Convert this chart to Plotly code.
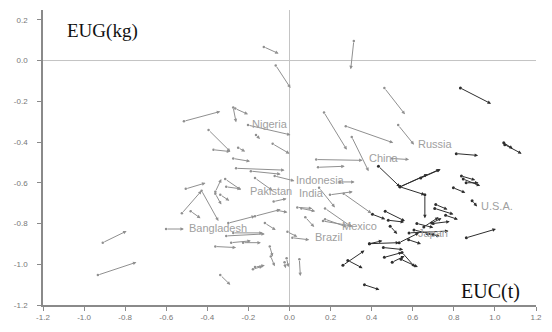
import plotly.graph_objects as go

# Light-grey vectors: (start x, start y) -> (end x, end y)
grey_x0 = [-0.125, -0.067, 0.313, 0.462, 0.168, 0.274, 0.529, 0.303, 0.130, 0.500, 0.139,
           -0.514, -0.274, -0.264, -0.202, -0.163, -0.394, -0.370, -0.250, -0.274, -0.260,
           -0.082, -0.168, -0.072, -0.188,
           -0.505, -0.524, -0.428, -0.481, -0.361, -0.361, -0.313, -0.308, -0.601, -0.298,
           -0.168, -0.308, -0.274, -0.361, -0.284, -0.226, -0.168, -0.337, -0.909, -0.933,
           -0.120, -0.058, -0.010, -0.096, -0.091, -0.178, -0.024, -0.337,
           0.144, 0.264, 0.173, 0.173, 0.077, 0.014, 0.048, -0.014, 0.038, -0.077, 0.058,
           0.245, 0.197, 0.163]
grey_y0 = [0.067, -0.024, 0.096, -0.135, -0.255, -0.322, -0.317, -0.375, -0.486, -0.481, -0.524,
           -0.298, -0.231, -0.236, -0.317, -0.365, -0.341, -0.438, -0.428, -0.481, -0.529,
           -0.409, -0.577, -0.567, -0.543,
           -0.630, -0.750, -0.639, -0.740, -0.644, -0.654, -0.582, -0.620, -0.827, -0.798,
           -0.764, -0.861, -0.846, -0.913, -0.894, -0.894, -1.014, -1.053, -0.894, -1.053,
           -0.798, -0.736, -0.841, -0.913, -0.962, -1.024, -0.990, -0.659,
           -0.625, -0.654, -0.726, -0.779, -0.769, -0.870, -0.976, -0.971, -0.721, -0.692, -0.726,
           -0.596, -0.659, -0.788]
grey_x1 = [-0.053, 0.005, 0.298, 0.562, 0.279, 0.505, 0.606, 0.385, 0.356, 0.582, 0.269,
           -0.337, -0.260, -0.202, 0.005, -0.144, -0.288, -0.288, -0.216, -0.192, -0.024,
           0.000, -0.082, 0.024, -0.043,
           -0.409, -0.428, -0.346, -0.433, -0.332, -0.332, -0.236, -0.236, -0.514, -0.168,
           -0.043, -0.120, -0.130, -0.260, -0.188, -0.139, -0.120, -0.288, -0.793, -0.745,
           -0.067, -0.010, 0.038, -0.082, -0.072, -0.130, -0.019, -0.293,
           0.221, 0.399, 0.303, 0.279, 0.120, 0.096, 0.053, -0.005, 0.111, -0.014, 0.125,
           0.317, 0.308, 0.308]
grey_y1 = [0.034, -0.135, -0.043, -0.264, -0.438, -0.404, -0.413, -0.543, -0.490, -0.486, -0.519,
           -0.250, -0.303, -0.264, -0.365, -0.385, -0.447, -0.447, -0.447, -0.495, -0.538,
           -0.457, -0.639, -0.591, -0.558,
           -0.601, -0.639, -0.788, -0.774, -0.582, -0.707, -0.635, -0.630, -0.827, -0.764,
           -0.731, -0.851, -0.846, -0.918, -0.885, -0.894, -1.005, -1.101, -0.837, -0.990,
           -0.832, -0.745, -0.865, -0.962, -1.010, -1.010, -1.019, -0.688,
           -0.721, -0.750, -0.817, -0.817, -0.817, -0.880, -1.058, -1.014, -0.726, -0.678, -0.740,
           -0.596, -0.644, -0.813]

# Dark vectors
dark_x0 = [0.832, 0.812, 1.048, 1.043, 0.639, 0.846, 0.837, 0.798, 0.433, 0.538, 0.538, 0.538,
           0.659, 0.889, 0.707, 0.712, 0.692, 0.466, 0.404, 0.490, 0.582, 0.606, 0.861, 0.389,
           0.389, 0.534, 0.462, 0.548, 0.260, 0.284, 0.365, 0.457, 0.543, 0.481, 0.654,
           0.620, 0.700, 0.720, 0.580, 0.760, 0.860, 0.500]
dark_y0 = [-0.135, -0.457, -0.413, -0.404, -0.577, -0.582, -0.567, -0.625, -0.519, -0.620, -0.620,
           -0.620, -0.659, -0.688, -0.726, -0.707, -0.798, -0.740, -0.755, -0.813, -0.846, -0.832,
           -0.870, -0.899, -0.899, -0.894, -0.966, -0.942, -1.005, -0.981, -1.101, -0.918, -0.976,
           -0.784, -0.817,
           -0.800, -0.800, -0.860, -0.880, -0.760, -0.600, -0.990]
dark_x1 = [0.981, 0.918, 1.130, 1.087, 0.736, 0.928, 0.904, 0.856, 0.538, 0.731, 0.673, 0.659,
           0.659, 0.913, 0.798, 0.769, 0.740, 0.562, 0.466, 0.524, 0.774, 0.712, 1.005, 0.534,
           0.452, 0.630, 0.548, 0.611, 0.365, 0.356, 0.438, 0.553, 0.625, 0.558, 0.726,
           0.700, 0.780, 0.660, 0.640, 0.820, 0.920, 0.560]
dark_y1 = [-0.212, -0.466, -0.457, -0.433, -0.534, -0.615, -0.587, -0.649, -0.620, -0.534, -0.558,
           -0.659, -0.774, -0.716, -0.755, -0.731, -0.774, -0.788, -0.779, -0.851, -0.837, -0.856,
           -0.827, -0.894, -0.885, -0.846, -0.942, -1.014, -0.933, -1.019, -1.125, -0.928, -1.014,
           -0.793, -0.769,
           -0.820, -0.790, -0.850, -0.900, -0.780, -0.600, -0.960]

# Country labels
label_text = ["Nigeria", "Russia", "China", "Indonesia", "Pakistan", "India",
              "Bangladesh", "Brazil", "Mexico", "U.S.A.", "Japan"]
label_x = [-0.19, 0.615, 0.375, 0.024, -0.20, 0.035, -0.50, 0.115, 0.245, 0.923, 0.615]
label_y = [-0.313, -0.41, -0.48, -0.587, -0.64, -0.65, -0.822, -0.865, -0.81, -0.716, -0.846]

# Axis ticks
x_ticks = [-1.2, -1.0, -0.8, -0.6, -0.4, -0.2, 0.0, 0.2, 0.4, 0.6, 0.8, 1.0, 1.2]
x_tick_text = ["-1.2", "-1.0", "-0.8", "-0.6", "-0.4", "-0.2", "0.0", "0.2", "0.4", "0.6", "0.8", "1.0", "1.2"]
y_ticks = [0.2, 0.0, -0.2, -0.4, -0.6, -0.8, -1.0, -1.2]
y_tick_text = ["0.2", "0.0", "-0.2", "-0.4", "-0.6", "-0.8", "-1.0", "-1.2"]

GREY = "#909090"
DARK = "#2e2e2e"

fig = go.Figure()

# small dots at each vector's origin
fig.add_trace(go.Scatter(x=grey_x0, y=grey_y0, mode="markers",
                         marker=dict(size=2.5, color=GREY), hoverinfo="skip", showlegend=False))
fig.add_trace(go.Scatter(x=dark_x0, y=dark_y0, mode="markers",
                         marker=dict(size=3, color=DARK), hoverinfo="skip", showlegend=False))

annotations = []


def add_arrows(xs0, ys0, xs1, ys1, color):
    for a, b, c, d in zip(xs0, ys0, xs1, ys1):
        annotations.append(dict(
            x=c, y=d, ax=a, ay=b, xref="x", yref="y", axref="x", ayref="y",
            text="", showarrow=True, arrowhead=2, arrowsize=0.7, arrowwidth=1,
            arrowcolor=color, standoff=0, startstandoff=0))


add_arrows(grey_x0, grey_y0, grey_x1, grey_y1, GREY)
add_arrows(dark_x0, dark_y0, dark_x1, dark_y1, DARK)

for t, lx, ly in zip(label_text, label_x, label_y):
    annotations.append(dict(x=lx, y=ly, xref="x", yref="y", text=t, showarrow=False,
                            xanchor="left", yanchor="middle",
                            font=dict(family="Liberation Sans", size=11, color="#a0a0a0")))

annotations.append(dict(x=0.044, y=0.93, xref="paper", yref="paper", text="EUG(kg)",
                        showarrow=False, xanchor="left", yanchor="middle",
                        font=dict(family="Liberation Serif", size=19, color="#111")))
annotations.append(dict(x=0.844, y=0.045, xref="paper", yref="paper", text="EUC(t)",
                        showarrow=False, xanchor="left", yanchor="middle",
                        font=dict(family="Liberation Serif", size=20, color="#111")))

shapes = [
    dict(type="line", xref="x", yref="paper", x0=0, x1=0, y0=0, y1=1,
         line=dict(color="#c4c4c4", width=1), layer="below"),
    dict(type="line", xref="paper", yref="y", x0=0, x1=1, y0=0, y1=0,
         line=dict(color="#c4c4c4", width=1), layer="below"),
]

fig.update_layout(
    width=552, height=332,
    margin=dict(l=43, r=10, t=10, b=20),
    paper_bgcolor="white", plot_bgcolor="white",
    showlegend=False,
    annotations=annotations,
    shapes=shapes,
    xaxis=dict(range=[-1.2, 1.2], tickvals=x_ticks, ticktext=x_tick_text,
               showgrid=False, zeroline=False, showline=True, linecolor="#8a8a8a", linewidth=1.5,
               ticks="outside", ticklen=4, tickcolor="#8a8a8a",
               tickfont=dict(family="Liberation Sans", size=8, color="#777")),
    yaxis=dict(range=[-1.2, 0.248], tickvals=y_ticks, ticktext=y_tick_text,
               showgrid=False, zeroline=False, showline=True, linecolor="#8a8a8a", linewidth=1.5,
               ticks="outside", ticklen=4, tickcolor="#8a8a8a", ticklabelstandoff=8,
               tickfont=dict(family="Liberation Sans", size=8, color="#777")),
)

fig.write_html("out.html")
